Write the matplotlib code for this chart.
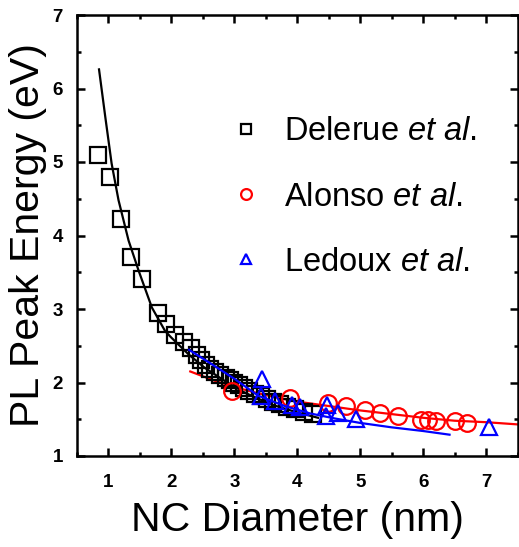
"""PL peak energy vs NC diameter — three data sets with fitted curves."""
import matplotlib

matplotlib.use("Agg")
import matplotlib.pyplot as plt  # noqa: E402
from matplotlib.ticker import MultipleLocator  # noqa: E402

plt.rcParams["font.family"] = ["Liberation Sans", "DejaVu Sans"]
plt.rcParams["mathtext.fontset"] = "custom"
plt.rcParams["mathtext.rm"] = "Liberation Sans"
plt.rcParams["mathtext.it"] = "Liberation Sans:italic"

# Delerue et al. (squares)
delerue_d = [0.84, 1.02, 1.20, 1.36, 1.53, 1.79, 1.91, 2.06, 2.20, 2.31, 2.40, 2.47,
             2.55, 2.62, 2.70, 2.78, 2.86, 2.93, 3.00, 3.08, 3.16, 3.24, 3.33, 3.42,
             3.52, 3.62, 3.72, 3.84, 3.96, 4.10, 4.25]
delerue_e = [5.10, 4.80, 4.22, 3.71, 3.41, 2.95, 2.79, 2.64, 2.55, 2.47, 2.38, 2.30,
             2.24, 2.19, 2.14, 2.10, 2.06, 2.03, 2.00, 1.97, 1.92, 1.88, 1.84, 1.81,
             1.77, 1.74, 1.71, 1.67, 1.64, 1.60, 1.57]
delerue_fit_d = [0.85, 0.95, 1.05, 1.16, 1.32, 1.48, 1.69, 1.90, 2.00, 2.27, 2.53,
                 2.85, 3.17, 3.59, 4.01, 4.33]
delerue_fit_e = [6.26, 5.61, 4.98, 4.48, 3.93, 3.52, 3.02, 2.70, 2.61, 2.385, 2.20,
                 2.02, 1.86, 1.70, 1.59, 1.52]

# Alonso et al. (circles)
alonso_d = [2.96, 3.88, 4.49, 4.77, 5.07, 5.31, 5.60, 5.97, 6.08, 6.21, 6.50, 6.69]
alonso_e = [1.88, 1.79, 1.72, 1.68, 1.63, 1.58, 1.545, 1.49, 1.485, 1.48, 1.47, 1.455]
alonso_fit_d = [2.30, 2.70, 3.00, 3.30, 3.70, 4.00, 4.50, 5.00, 5.50, 6.00, 6.50, 7.00, 7.50]
alonso_fit_e = [2.15, 2.02, 1.94, 1.87, 1.79, 1.74, 1.68, 1.62, 1.57, 1.52, 1.48, 1.46, 1.43]

# Ledoux et al. (triangles)
ledoux_d = [3.44, 3.43, 3.65, 3.91, 4.05, 4.47, 4.46, 4.65, 4.94, 7.05]
ledoux_e = [2.05, 1.82, 1.75, 1.70, 1.66, 1.70, 1.55, 1.59, 1.50, 1.39]
ledoux_fit_d = [2.28, 2.64, 3.01, 3.38, 3.80, 4.20, 4.60, 5.00, 5.50, 6.00, 6.42]
ledoux_fit_e = [2.445, 2.25, 2.045, 1.82, 1.68, 1.58, 1.51, 1.45, 1.39, 1.34, 1.29]

labels = ["Delerue $\\it{et\\ al.}$", "Alonso $\\it{et\\ al.}$", "Ledoux $\\it{et\\ al.}$"]

fig = plt.figure(figsize=(5.19, 5.47), dpi=100)
ax = fig.add_axes([77 / 519, 91 / 547, 440.5 / 519, 441 / 547])

ax.plot(delerue_fit_d, delerue_fit_e, color="black", lw=1.6, zorder=2)
ax.plot(alonso_fit_d, alonso_fit_e, color="red", lw=1.6, zorder=2)
ax.plot(ledoux_fit_d, ledoux_fit_e, color="blue", lw=1.6, zorder=4)

mk = dict(linestyle="none", markerfacecolor="none", markeredgewidth=1.6)
ax.plot(delerue_d, delerue_e, marker="s", markersize=11, markeredgecolor="black",
        label=labels[0], zorder=3, **mk)
ax.plot(alonso_d, alonso_e, marker="o", markersize=12, markeredgecolor="red",
        label=labels[1], zorder=3, **mk)
ax.plot(ledoux_d, ledoux_e, marker="^", markersize=12, markeredgecolor="blue",
        label=labels[2], zorder=5, **mk)

ax.set_xlim(0.5, 7.5)
ax.set_ylim(1, 7)
ax.xaxis.set_major_locator(MultipleLocator(1))
ax.xaxis.set_minor_locator(MultipleLocator(0.5))
ax.yaxis.set_major_locator(MultipleLocator(1))
ax.yaxis.set_minor_locator(MultipleLocator(0.5))
ax.tick_params(which="both", direction="in", top=True, right=True, width=1.8)
ax.tick_params(which="major", length=6, labelsize=13.5)
ax.tick_params(which="minor", length=3)
ax.tick_params(axis="x", which="major", pad=13)
ax.tick_params(axis="y", which="major", pad=10)
for lab in ax.get_xticklabels() + ax.get_yticklabels():
    lab.set_fontweight("bold")
for sp in ax.spines.values():
    sp.set_linewidth(1.8)

ax.set_xlabel("NC Diameter (nm)", fontsize=29.5, labelpad=7)
ax.set_ylabel("PL Peak Energy (eV)", fontsize=29.5, labelpad=4)

leg = ax.legend(loc="center left", bbox_to_anchor=(0.317, 0.587), frameon=False,
                fontsize=23.5, markerscale=0.65, handlelength=1.0, handletextpad=0.65,
                labelspacing=1.05, borderaxespad=0)

fig.savefig("out.png", dpi=100)
